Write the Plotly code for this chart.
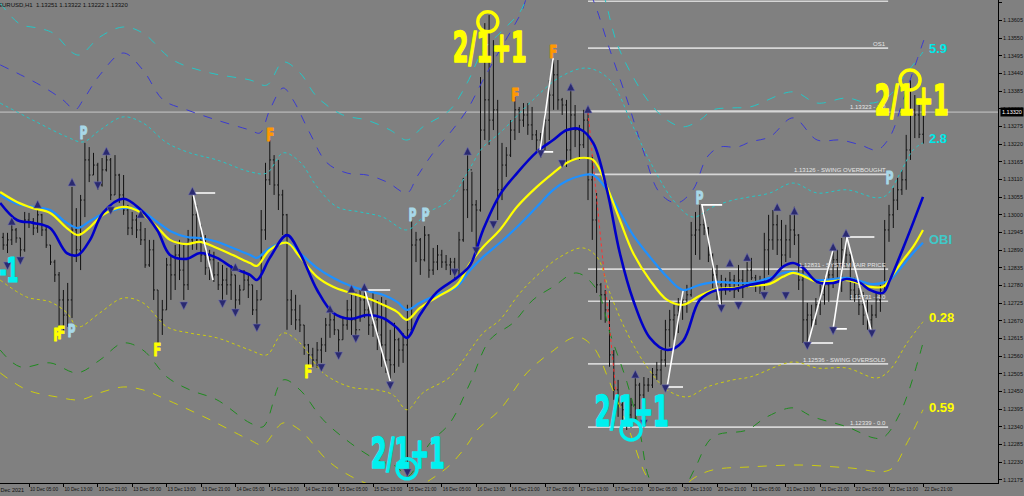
import plotly.graph_objects as go

# ---------------- candles (EURUSD H1), prices in points (1e-5) ----------------
first_bar = -6
highs = [112944,112944,112969,112959,112928,113009,113006,112990,113021,113003,112965,112906,112860,112822,112766,112788,
         113087,113021,113062,113224,113211,113193,113162,113177,113202,113177,113186,113128,113124,113031,113009,113000,
         112978,112959,112922,112922,112766,112735,112866,112875,112906,112922,112906,112953,113068,113031,112969,112937,
         112891,112885,112853,112844,112835,112844,112813,112782,112828,112813,112782,112766,113015,113162,113233,113186,
         113171,113078,113003,112766,112751,112720,112657,112598,112586,112604,112617,112679,112710,112688,112642,112679,
         112735,112751,112760,112766,112769,112744,112757,112735,112744,112735,112642,112664,112617,112632,112720,112984,
         112947,112928,112965,112940,112897,112906,112891,112875,112866,112866,112947,113115,113186,113134,113046,113429,
         113597,113622,113544,113358,113224,113211,113295,113367,113336,113348,113348,113336,113264,113255,113317,113420,
         113482,113482,113364,113358,113395,113342,113280,113327,113333,113186,113068,112788,112766,112735,112579,112486,
         112424,112418,112430,112502,112477,112495,112492,112523,112542,112579,112673,112704,112720,112741,112766,112782,
         112978,113009,113031,113009,112962,112880,112844,112813,112804,112822,112813,112844,112828,112853,112866,112813,
         112810,112944,113000,113015,113000,112984,112969,113000,113025,112940,112844,112726,112720,112741,112782,112804,
         112844,112897,112891,112928,112931,112885,112804,112772,112760,112735,112720,112760,112782,112984,113031,113084,
         113115,113140,113249,113420,113373,113342,113322]
lows = [112891,112881,112906,112913,112860,112885,112959,112937,112944,112934,112897,112844,112791,112648,112639,112651,
        112679,112853,112828,112993,113102,113124,113078,113088,113135,113046,113062,113037,113000,112937,112937,112928,
        112906,112835,112838,112735,112595,112626,112704,112735,112766,112797,112735,112766,112891,112891,112853,112813,
        112797,112791,112766,112720,112751,112735,112698,112720,112766,112741,112688,112642,112735,112922,113093,113062,
        113015,112937,112642,112657,112642,112635,112564,112523,112527,112523,112539,112573,112617,112626,112564,112611,
        112642,112626,112617,112667,112679,112626,112620,112579,112527,112508,112486,112508,112527,112539,112175,112642,
        112853,112813,112855,112804,112813,112828,112835,112828,112813,112804,112813,112916,112990,112947,112900,113010,
        113233,113218,113264,112984,113046,113118,113180,113233,113255,113274,113249,113233,113193,113177,113202,113233,
        113327,113327,113311,113149,113171,113211,113171,113208,113046,112922,112757,112673,112664,112527,112424,112371,
        112352,112330,112337,112362,112393,112424,112449,112461,112486,112470,112527,112589,112611,112632,112673,112695,
        112745,112875,112860,112937,112853,112772,112735,112720,112751,112760,112741,112760,112741,112772,112797,112760,
        112754,112766,112813,112891,112875,112835,112853,112866,112906,112766,112601,112604,112642,112657,112688,112720,
        112729,112772,112791,112760,112835,112735,112729,112688,112657,112642,112632,112679,112698,112760,112916,112959,
        113015,113062,113078,113171,113239,113239,113222]
closes = [112906,112922,112953,112928,112891,112984,112978,112959,113000,112953,112906,112853,112813,112735,112688,112735,
          112953,112891,113046,113171,113124,113155,113093,113140,113171,113062,113124,113062,113015,112959,112984,112953,
          112922,112844,112891,112766,112673,112704,112844,112813,112875,112828,112782,112922,113000,112922,112875,112835,
          112860,112813,112782,112797,112782,112813,112735,112766,112797,112782,112704,112735,112953,113109,113171,113093,
          113062,113000,112735,112704,112673,112657,112595,112564,112548,112579,112595,112657,112673,112642,112611,112657,
          112704,112673,112642,112735,112704,112657,112673,112626,112595,112548,112533,112611,112579,112595,112642,112906,
          112922,112860,112937,112828,112853,112875,112853,112844,112853,112828,112922,113078,113140,113031,113015,113264,
          113358,113295,113327,113078,113155,113186,113264,113327,113295,113311,113280,113249,113233,113202,113295,113373,
          113436,113358,113342,113202,113311,113264,113218,113295,113109,112984,112782,112751,112704,112564,112455,112408,
          112393,112377,112408,112470,112439,112470,112470,112502,112517,112548,112642,112673,112688,112720,112735,112751,
          112937,112953,112969,112959,112875,112813,112782,112766,112782,112797,112766,112797,112782,112828,112804,112782,
          112782,112891,112922,112969,112922,112875,112922,112953,112937,112797,112673,112688,112673,112720,112751,112782,
          112813,112860,112844,112891,112875,112766,112751,112720,112688,112673,112688,112735,112766,112953,113000,113046,
          113078,113109,113202,113327,113311,113251,113320]
first_open = 112930

# ---------------- moving averages (bar index, price points) ----------------
ma_bars = [-6.7,-2.8,0.9,4.9,8.8,11.4,14.2,17.2,21.9,25.8,29.8,32.8,36.7,39.8,43.7,47.4,51.4,53.0,56.0,60.0,63.0,67.0,
           70.7,74.7,78.6,82.3,85.6,87.9,90.9,94.9,99.5,102.6,105.6,109.5,113.5,118.1,121.9,125.1,128.1,131.2,134.4,
           137.4,140.5,144.4,148.4,152.1,156.0,160.0,163.7,167.7,172.3,175.3,177.7,180.0,183.3,187.0,190.2,193.3,195.6,
           198.6,200.2,203.3,205.6,207.9]
ma_fast = [113037,112984,112975,112959,112881,112875,112922,113006,113050,113018,112953,112875,112863,112881,112866,112835,
           112813,112797,112866,112937,112881,112766,112695,112676,112688,112679,112648,112617,112688,112760,112804,112844,
           112953,113062,113130,113196,113233,113264,113267,113224,113078,112881,112735,112617,112579,112607,112735,112766,
           112769,112782,112797,112838,112850,112835,112791,112788,112800,112788,112766,112757,112797,112897,112975,113056]
ma_mid = [113071,113040,113021,113006,112959,112937,112962,113000,113025,113009,112962,112922,112909,112916,112897,112875,
          112850,112841,112891,112913,112869,112807,112776,112757,112741,112720,112698,112673,112710,112744,112782,112850,
          112900,112953,113025,113087,113130,113162,113177,113171,113087,112984,112881,112797,112735,112720,112748,112769,
          112772,112779,112785,112807,112819,112810,112791,112794,112797,112785,112776,112776,112800,112860,112900,112953]
ma_slow = [113062,113034,113025,113015,112975,112959,112981,113003,113021,113015,112978,112950,112931,112928,112916,112897,
           112875,112866,112897,112913,112881,112835,112804,112779,112763,112751,112729,112704,112726,112751,112776,112828,
           112869,112913,112962,113025,113078,113106,113121,113124,113078,113009,112937,112869,112807,112766,112782,112791,
           112788,112788,112804,112819,112822,112813,112797,112800,112804,112794,112785,112788,112797,112844,112881,112913]

# ---------------- envelope bands (bar index, price points) ----------------
bandA_bars = [-6.7,2.6,7.9,10.7,12.6,16.5,21.9,26.5,31.2,36.7,43.7,51.4,53.7,56.0,59.1,61.4,65.3,69.3,74.0,78.6,83.3,87.9,
              90.2,94.0,97.9,101.9,105.6,109.5,114.2,117.7,129.3,131.2,135.1,139.1,142.8,146.7,150.7,154.4,157.7,160.7,
              164.7,167.7,172.3,177.7,183.3,188.6,193.3,197.2,200.2,203.3,206.5,208.5]
bandA = [113467,113404,113358,113327,113358,113436,113504,113451,113358,113327,113295,113264,113255,113327,113395,113358,
         113255,113162,113130,113124,113102,113068,113118,113193,113255,113327,113420,113513,113622,113716,113716,113669,
         113513,113358,113202,113068,113037,113078,113180,113211,113211,113227,113243,113302,113233,113233,113218,113202,
         113243,113358,113482,113560]
bandB_bars = [-6.7,-2.1,1.9,5.6,10.2,11.9,16.5,21.9,26.5,33.5,42.1,51.4,55.3,59.1,63.0,67.0,73.0,78.6,84.0,87.9,91.6,97.9,
              101.9,105.6,109.5,114.2,117.7,132.8,134.0,136.7,140.5,144.4,148.4,152.1,156.0,159.1,163.7,167.7,177.7,183.3,
              190.2,194.9,197.2,200.2,203.7,206.5,207.9]
bandB = [113660,113594,113582,113566,113504,113498,113554,113585,113566,113482,113442,113420,113404,113476,113442,113367,
         113311,113295,113264,113233,113274,113327,113411,113513,113566,113632,113716,113716,113669,113535,113429,113348,
         113295,113274,113295,113327,113333,113336,113383,113348,113364,113348,113351,113373,113436,113482,113507]
bandC_bars = [-6.7,0.9,8.8,12.6,16.5,21.9,26.5,32.1,37.4,43.7,51.4,55.3,59.1,63.0,67.0,71.6,77.0,82.3,87.9,92.6,97.9,101.9,
              105.6,109.5,117.2,123.5,129.8,135.1,140.5,145.1,149.8,154.4,159.1,163.7,167.7,172.3,177.7,183.3,190.2,197.2,
              199.5,202.6,205.6,207.9]
bandC = [113348,113295,113243,113227,113264,113305,113286,113224,113193,113171,113134,113130,113193,113165,113087,113025,
         113009,112993,112953,113006,113046,113130,113211,113255,113358,113429,113457,113420,113274,113149,113046,112993,
         113025,113046,113056,113068,113099,113068,113078,113053,113062,113130,113202,113224]
bandD_bars = [-6.7,-0.5,4.9,8.8,11.4,16.5,21.9,26.5,32.1,37.4,43.7,51.4,55.3,59.1,63.0,68.4,74.7,80.9,84.7,87.9,91.6,97.9,
              102.6,105.6,109.5,114.2,118.8,123.5,128.8,132.1,135.1,139.1,143.7,148.4,153.0,157.7,163.7,167.7,177.7,183.3,
              190.2,197.2,200.2,204.2,207.9]
bandD = [112797,112744,112729,112695,112651,112695,112741,112726,112651,112632,112617,112579,112564,112632,112601,112508,
         112464,112455,112439,112393,112446,112495,112579,112632,112673,112757,112819,112869,112897,112869,112757,112632,
         112527,112455,112433,112464,112486,112495,112542,112523,112523,112492,112517,112601,112667]
bandE_bars = [-6.7,-2.1,4.9,11.2,16.5,21.9,26.5,32.1,37.4,43.7,51.4,54.4,59.1,63.0,68.4,74.7,80.9,85.6,87.9,93.3,97.9,102.6,
              107.2,112.6,117.2,121.9,127.4,132.1,135.1,139.1,142.1,144.4,148.4,151.4,154.7,159.1,167.0,171.6,177.7,182.3,
              190.2,196.3,198.6,202.6,207.9]
bandE = [112579,112527,112539,112508,112548,112601,112579,112495,112455,112424,112352,112340,112486,112455,112362,112290,
         112237,112215,112184,112290,112352,112477,112611,112664,112735,112776,112819,112766,112632,112477,112321,112175,
         112112,112128,112206,112309,112330,112371,112399,112371,112340,112306,112306,112383,112601]
bandF_bars = [-6.7,-0.5,6.5,11.9,16.5,21.9,26.5,32.1,42.1,51.4,54.4,59.1,63.0,69.3,74.7,82.3,87.0,93.3,97.9,101.9,104.2,
              109.5,115.8,121.2,127.4,131.2,135.1,139.8,143.7,148.4,154.7,159.1,167.7,179.3,190.9,200.2,204.2,207.9]
bandF = [112508,112455,112433,112424,112446,112464,112455,112424,112362,112299,112284,112352,112330,112237,112187,112144,
         112128,112175,112221,112284,112330,112393,112508,112570,112620,112589,112477,112321,112184,112112,112181,112206,
         112215,112221,112212,112206,112290,112393]

# ---------------- fractal arrows ----------------
up_bars = [-4,2,10,18,26,38,48,70,75,78,102,126,130,141,163,167,174,178,187,190]
up_px = [112993,113046,113115,113211,113015,113087,112850,112720,112782,112788,113211,113411,113342,112517,112863,112881,
         113037,113025,112913,112956]
dn_bars = [-5,-2,16,19,36,45,48,53,68,72,76,84,88,99,104,108,119,124,143,148,161,165,171,176,181,187,196]
dn_px = [112828,112844,113078,113000,112704,112710,112682,112635,112511,112548,112601,112455,112184,112807,112875,112956,
         113177,113146,112337,112446,112695,112704,112735,112735,112579,112626,112617]

# ---------------- zigzag (white) ----------------
zigzags = [
    ([43.3, 38.1, 42.8], [113068, 113068, 112797]),
    ([84.0, 78.1, 84.0], [112766, 112766, 112483]),
    ([121.9, 118.8, 121.9], [113196, 113196, 113488]),
    ([152.1, 148.4, 152.1], [112464, 112464, 112763]),
    ([161.2, 156.5, 160.9], [113031, 113031, 112710]),
    ([187.0, 181.2, 187.0], [112601, 112601, 112891]),
    ([190.2, 187.0, 190.2], [112645, 112645, 112931]),
    ([196.6, 190.2, 196.0], [112931, 112931, 112632]),
]

# ---------------- levels ----------------
level_prices = [1.13665, 1.13519, 1.13323, 1.13126, 1.12831, 1.12731, 1.12536, 1.12339]
level_labels = ["", "OS1", "1.13323 - 1.0", "1.13126 - SWING OVERBOUGHT", "1.12831 - SYSTEM FAIR PRICE",
                "1.12731 - 4.0", "1.12536 - SWING OVERSOLD", "1.12339 - 0.0"]
level_start, level_end = 130, 199.8
bid_price = 1.13320

# ---------------- P / F signal labels ----------------
sig_text = ["P", "F", "F", "P", "F", "F", "F", "P", "P", "F", "F", "P", "P"]
sig_bar = [12.6, 6.5, 7.4, 9.8, 29.8, 56.0, 64.9, 89.1, 92.1, 113.0, 121.9, 156.0, 200.2]
sig_px = [113255, 112626, 112632, 112638, 112579, 113249, 112511, 113000, 113000, 113373, 113507, 113053, 113115]
sig_col = ["#a8d8e8", "#ffff00", "#ffff00", "#a8d8e8", "#ffff00", "#ff9900", "#ffff00", "#a8d8e8", "#a8d8e8",
           "#ff9900", "#ff9900", "#a8d8e8", "#a8d8e8"]

big_bar = [107.2, 205.3, 140.0, 88.1]
big_px = [113523, 113358, 112390, 112259]
big_col = ["#ffff00", "#ffff00", "#00f0f0", "#00f0f0"]
ring_bar = [106.7, 204.9, 140.0, 87.9]
ring_px = [113601, 113420, 112330, 112209]

side_text = ["5.9", "2.8", "OBI", "0.28", "0.59"]
side_px = [113519, 113239, 112922, 112679, 112399]
side_col = ["#00e8e8", "#00e8e8", "#40c8c8", "#ffff00", "#ffff00"]

tick_bars = list(range(0, 209, 8))
tick_text = ["10 Dec 05:00", "10 Dec 13:00", "10 Dec 21:00", "13 Dec 05:00", "13 Dec 13:00", "13 Dec 21:00",
             "14 Dec 05:00", "14 Dec 13:00", "14 Dec 21:00", "15 Dec 05:00", "15 Dec 13:00", "15 Dec 21:00",
             "16 Dec 05:00", "16 Dec 13:00", "16 Dec 21:00", "17 Dec 05:00", "17 Dec 13:00", "17 Dec 21:00",
             "20 Dec 05:00", "20 Dec 13:00", "20 Dec 21:00", "21 Dec 05:00", "21 Dec 13:00", "21 Dec 21:00",
             "22 Dec 05:00", "22 Dec 13:00", "22 Dec 21:00"]
price_ticks = [1.12175, 1.12230, 1.12285, 1.12340, 1.12395, 1.12450, 1.12505, 1.12560, 1.12615, 1.12670, 1.12725,
               1.12780, 1.12835, 1.12890, 1.12945, 1.13000, 1.13055, 1.13110, 1.13165, 1.13220, 1.13275, 1.13330,
               1.13385, 1.13440, 1.13495, 1.13550, 1.13605, 1.13660]

# ===================================================================
P = lambda arr: [v / 100000 for v in arr]
bars = list(range(first_bar, first_bar + len(closes)))
opens = [first_open] + closes[:-1]   # H1 bars open at the prior close

fig = go.Figure()

fig.add_shape(type="line", xref="paper", x0=0, x1=1, yref="y", y0=bid_price, y1=bid_price,
              line=dict(color="#c8c8c8", width=1), layer="below")
for lp, lt in zip(level_prices, level_labels):
    fig.add_shape(type="line", x0=level_start, x1=level_end, y0=lp, y1=lp,
                  line=dict(color="#d6d6d6", width=1.6), layer="below")
    if lt:
        fig.add_annotation(x=level_end, y=lp, text=lt, showarrow=False, xanchor="right", yanchor="bottom",
                           yshift=-1, font=dict(size=6, color="#e6e6e6", family="Liberation Sans"))

band_specs = [
    (bandA_bars, bandA, "#3a3ad0", "dash"),
    (bandB_bars, bandB, "#26c6c6", "dash"),
    (bandC_bars, bandC, "#26c6c6", "dot"),
    (bandD_bars, bandD, "#cccc10", "dot"),
    (bandE_bars, bandE, "#1f8a1f", "dash"),
    (bandF_bars, bandF, "#cccc10", "dash"),
]
for bx, by, col, dash in band_specs:
    fig.add_trace(go.Scatter(x=bx, y=P(by), mode="lines", line=dict(color=col, width=1, dash=dash, shape="spline"),
                             hoverinfo="skip"))

fig.add_trace(go.Scatter(x=[130, 136.7], y=[1.13320, 1.12424], mode="lines",
                         line=dict(color="#ff3030", width=1, dash="dot"), hoverinfo="skip"))

fig.add_trace(go.Ohlc(x=bars, open=P(opens), high=P(highs), low=P(lows), close=P(closes),
                      increasing=dict(line=dict(color="#111111", width=1)),
                      decreasing=dict(line=dict(color="#111111", width=1)), tickwidth=0.3))

fig.add_trace(go.Scatter(x=ma_bars, y=P(ma_slow), mode="lines", line=dict(color="#1e90ff", width=2.2, shape="spline")))
fig.add_trace(go.Scatter(x=ma_bars, y=P(ma_mid), mode="lines", line=dict(color="#ffff00", width=2.2, shape="spline")))
fig.add_trace(go.Scatter(x=ma_bars, y=P(ma_fast), mode="lines", line=dict(color="#0000c8", width=2.6, shape="spline")))

for zx, zy in zigzags:
    fig.add_trace(go.Scatter(x=zx, y=P(zy), mode="lines", line=dict(color="#ffffff", width=1.6)))

fig.add_trace(go.Scatter(x=up_bars, y=P(up_px), mode="markers",
                         marker=dict(symbol="arrow-up", size=8, color="#2a2a70", line=dict(color="#7070aa", width=0.6))))
fig.add_trace(go.Scatter(x=dn_bars, y=P(dn_px), mode="markers",
                         marker=dict(symbol="arrow-down", size=8, color="#2a2a70", line=dict(color="#7070aa", width=0.6))))

fig.add_trace(go.Scatter(x=ring_bar, y=P(ring_px), mode="markers",
                         marker=dict(symbol="circle-open", size=20, color=["#ffff00", "#ffff00", "#00f0f0", "#00f0f0"],
                                     line=dict(width=3.5))))

NARROW = "Liberation Sans Narrow, DejaVu Sans Condensed, Arial Narrow, sans-serif"
for t, bx, py, c in zip(sig_text, sig_bar, sig_px, sig_col):
    fig.add_annotation(x=bx, y=py / 100000, text="<b>" + t + "</b>", showarrow=False,
                       font=dict(size=17, color=c, family=NARROW))
for bx, py, c in zip(big_bar, big_px, big_col):
    fig.add_annotation(x=bx, y=py / 100000, text="<b>2/1+1</b>", showarrow=False,
                       font=dict(size=43, color=c, family=NARROW))
for t, py, c in zip(side_text, side_px, side_col):
    fig.add_annotation(x=208.8, y=py / 100000, text="<b>" + t + "</b>", showarrow=False, xanchor="left",
                       font=dict(size=13, color=c, family="Liberation Sans, Arial"))
fig.add_annotation(x=-4.6, y=1.12828, text="<b>-1</b>", showarrow=False, xanchor="center",
                   font=dict(size=34, color="#00f0f0", family=NARROW))

fig.add_annotation(xref="paper", yref="paper", x=-0.0045, y=1.0, xanchor="left", yanchor="top", showarrow=False,
                   text="EURUSD,H1  1.13251 1.13322 1.13222 1.13320", font=dict(size=6, color="#111111",
                                                                                family="Liberation Sans"))
fig.add_annotation(xref="paper", yref="paper", x=-0.006, y=0, yshift=-2, xanchor="left", yanchor="top",
                   showarrow=False, text="9 Dec 2021", font=dict(size=5.5, color="#111111", family="Liberation Sans"))
fig.add_annotation(xref="paper", x=1.0, y=bid_price, xanchor="left", showarrow=False, text="1.13320",
                   bgcolor="#000000", font=dict(size=5.5, color="#ffffff", family="Liberation Sans"),
                   borderpad=1, xshift=2)

fig.update_layout(
    width=1024, height=496, template="none",
    margin=dict(l=0, r=26, t=0, b=13),
    paper_bgcolor="#808080", plot_bgcolor="#808080", showlegend=False,
    xaxis=dict(range=[-6.744, 225.35], tickvals=tick_bars, ticktext=tick_text, ticks="outside", ticklen=3,
               tickcolor="#000000", tickfont=dict(size=5.5, color="#111111", family="Liberation Sans"),
               tickangle=0, ticklabelposition="outside right", showgrid=False, zeroline=False, showline=True,
               linecolor="#000000", linewidth=1, rangeslider=dict(visible=False), fixedrange=True),
    yaxis=dict(range=[1.12165, 1.13669], side="right", tickvals=price_ticks, tickformat=".5f", ticks="outside",
               ticklen=3, tickcolor="#000000", tickfont=dict(size=5.5, color="#111111", family="Liberation Sans"),
               showgrid=False, zeroline=False, showline=True, linecolor="#000000", linewidth=1, fixedrange=True),
)

post = """
document.body.style.margin = '0';
document.body.style.overflow = 'hidden';
document.querySelectorAll('text.annotation-text').forEach(function (t) {
  var s = t.textContent;
  var heavy = function (w) {
    var f = t.style.fill || window.getComputedStyle(t).fill;
    t.style.stroke = f;
    t.style.strokeWidth = w;
    t.style.strokeLinejoin = 'round';
  };
  if (s === '2/1+1') {
    t.setAttribute('textLength', '74');
    t.setAttribute('lengthAdjust', 'spacingAndGlyphs');
    heavy('1.6px');
  } else if (s === 'P' || s === 'F') {
    t.setAttribute('textLength', '8');
    t.setAttribute('lengthAdjust', 'spacingAndGlyphs');
    heavy('0.8px');
  } else if (s === '-1') {
    t.setAttribute('textLength', '19');
    t.setAttribute('lengthAdjust', 'spacingAndGlyphs');
    heavy('1.2px');
  }
});
document.querySelectorAll('g.xtick text').forEach(function (t) {
  t.setAttribute('textLength', '28');
  t.setAttribute('lengthAdjust', 'spacingAndGlyphs');
});
"""
fig.write_html("out.html", post_script=post, config={"displayModeBar": False})
